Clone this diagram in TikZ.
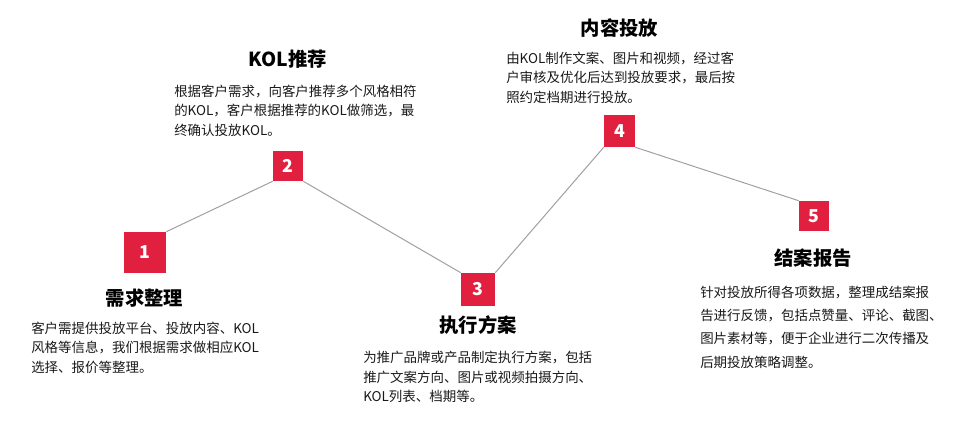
\documentclass[tikz,border=0pt]{standalone}
\usepackage{fontspec}
\setmainfont{Noto Sans CJK SC}
\definecolor{boxred}{RGB}{224,32,62}
\definecolor{linegray}{RGB}{160,160,160}
\definecolor{txt}{RGB}{25,25,25}
\begin{document}
\begin{tikzpicture}[x=0.75pt,y=-0.75pt,
  numbox/.style={fill=boxred,text=white,inner sep=0pt,font=\fontsize{13.3pt}{15pt}\selectfont\bfseries},
  ttl/.style={text=black,inner sep=0pt,font=\fontsize{14.5pt}{16pt}\selectfont\bfseries},
  desc/.style={text=txt,inner sep=0pt,anchor=west,align=left,font=\fontsize{10.1pt}{14.6pt}\selectfont},
  conn/.style={draw=linegray,line width=0.75pt}]
\useasboundingbox (0,0) rectangle (973,423);
% number boxes
\node[numbox,minimum width=31.5pt,minimum height=30.75pt] (b1) at (145,252.5) {1};
\node[numbox,minimum width=22.5pt,minimum height=22.5pt] (b2) at (288,166) {2};
\node[numbox,minimum width=25.5pt,minimum height=24.75pt] (b3) at (478,289.5) {3};
\node[numbox,minimum width=23.25pt,minimum height=24pt] (b4) at (619.5,131) {4};
\node[numbox,minimum width=22.5pt,minimum height=22.5pt] (b5) at (814,216) {5};
% connectors
\draw[conn] (b1.north east) -- (b2.south west);
\draw[conn] (b2.south east) -- (b3.north west);
\draw[conn] (b3.north east) -- (b4.south west);
\draw[conn] (b4.south east) -- (b5.north west);
% titles
\node[ttl] (t1) at (144.5,298) {需求整理};
\node[ttl] (t2) at (287.5,59) {KOL推荐};
\node[ttl] (t3) at (478,325) {执行方案};
\node[ttl] (t4) at (619.5,28) {内容投放};
\node[ttl] (t5) at (813,258) {结案报告};
% descriptions
\node[desc] (d1) at (31,347.5) {客户需提供投放平台、投放内容、KOL\\风格等信息，我们根据需求做相应KOL\\选择、报价等整理。};
\node[desc] (d2) at (174,110.5) {根据客户需求，向客户推荐多个风格相符\\的KOL，客户根据推荐的KOL做筛选，最\\终确认投放KOL。};
\node[desc] (d3) at (363,377) {为推广品牌或产品制定执行方案，包括\\推广文案方向、图片或视频拍摄方向、\\KOL列表、档期等。};
\node[desc] (d4) at (506,77.5) {由KOL制作文案、图片和视频，经过客\\户审核及优化后达到投放要求，最后按\\照约定档期进行投放。};
\node[desc,font=\fontsize{10.1pt}{17.5pt}\selectfont] (d5) at (700,327) {针对投放所得各项数据，整理成结案报\\告进行反馈，包括点赞量、评论、截图、\\图片素材等，便于企业进行二次传播及\\后期投放策略调整。};
\end{tikzpicture}
\end{document}
